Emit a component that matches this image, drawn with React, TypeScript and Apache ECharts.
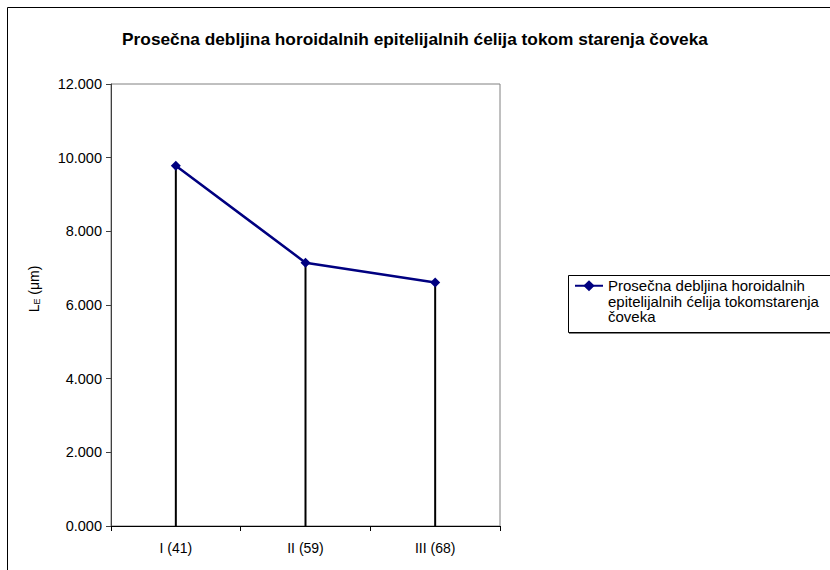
import React, { useEffect, useRef } from "react";
import * as echarts from "echarts";

const categories = ["I (41)", "II (59)", "III (68)"];
const thickness = [9.78, 7.15, 6.61];
const seriesName = "Prosečna debljina horoidalnih epitelijalnih ćelija tokom starenja čoveka";
const legendLabel = "\n\nProsečna debljina horoidalnih\nepitelijalnih ćelija tokomstarenja\nčoveka";
const yMin = 0;
const yMax = 12;
const yStep = 2;

const FONT = "'Liberation Sans', Arial, sans-serif";

export default function App() {
  const ref = useRef<HTMLDivElement>(null);
  useEffect(() => {
    document.body.style.margin = "0";
    if (!ref.current) return;
    const chart = echarts.init(ref.current, null, { renderer: "svg" });
    chart.setOption({
      animation: false,
      backgroundColor: "#fff",
      title: {
        text: seriesName,
        left: "center",
        top: 25,
        textStyle: { fontFamily: FONT, fontWeight: "bold", fontSize: 17.3, color: "#000" },
      },
      graphic: [
        {
          type: "rect",
          z: -10,
          shape: { x: 7.5, y: 7.5, width: 1000, height: 1000 },
          style: { fill: "none", stroke: "#000", lineWidth: 1 },
        },
        {
          type: "rect",
          z: -10,
          shape: { x: 568.5, y: 275.5, width: 400, height: 57 },
          style: { fill: "#fff", stroke: "#000", lineWidth: 1 },
        },
        {
          type: "line",
          z: -9,
          shape: { x1: 569, y1: 333.5, x2: 1000, y2: 333.5 },
          style: { stroke: "#808080", lineWidth: 1 },
        },
      ],
      legend: {
        left: 574,
        top: 247,
        padding: 0,
        itemWidth: 28,
        itemHeight: 14,
        data: [{ name: seriesName }],
        formatter: () => legendLabel,
        textStyle: {
          fontFamily: FONT,
          fontSize: 15,
          color: "#000",
          lineHeight: 15.5,
        },
      },
      grid: {
        left: 111,
        top: 84,
        right: 330,
        bottom: 44,
        show: true,
        borderColor: "#808080",
        borderWidth: 1,
      },
      xAxis: {
        type: "category",
        data: categories,
        axisLine: { lineStyle: { color: "#000", width: 1 } },
        axisTick: { show: true, length: 5, lineStyle: { color: "#000" } },
        axisLabel: { fontFamily: FONT, fontSize: 14, color: "#000", margin: 15 },
      },
      yAxis: {
        type: "value",
        min: yMin,
        max: yMax,
        interval: yStep,
        name: "{a|L}{b|E}{a| (μm)}",
        nameLocation: "middle",
        nameRotate: 90,
        nameGap: 70,
        nameTextStyle: {
          padding: [0, 0, 0, 32],
          rich: {
            a: { fontFamily: FONT, fontSize: 14, color: "#000", verticalAlign: "bottom" },
            b: { fontFamily: FONT, fontSize: 9, color: "#000", verticalAlign: "bottom" },
          },
        },
        axisLine: { show: true, lineStyle: { color: "#404040", width: 1 } },
        axisTick: { show: true, length: 5, lineStyle: { color: "#404040" } },
        splitLine: { show: false },
        axisLabel: {
          fontFamily: FONT,
          fontSize: 14.5,
          color: "#000",
          margin: 9,
          formatter: (v: number) => v.toFixed(3),
        },
      },
      series: [
        {
          name: "drop",
          type: "bar",
          data: thickness,
          barWidth: 2,
          silent: true,
          z: 1,
          itemStyle: { color: "#000" },
        },
        {
          name: seriesName,
          type: "line",
          data: thickness,
          z: 3,
          color: "#000080",
          lineStyle: { color: "#000080", width: 2.5 },
          itemStyle: { color: "#000080" },
          symbol: "diamond",
          symbolSize: 10,
        },
      ],
    });
    return () => chart.dispose();
  }, []);
  return <div ref={ref} style={{ width: 830, height: 570 }} />;
}
